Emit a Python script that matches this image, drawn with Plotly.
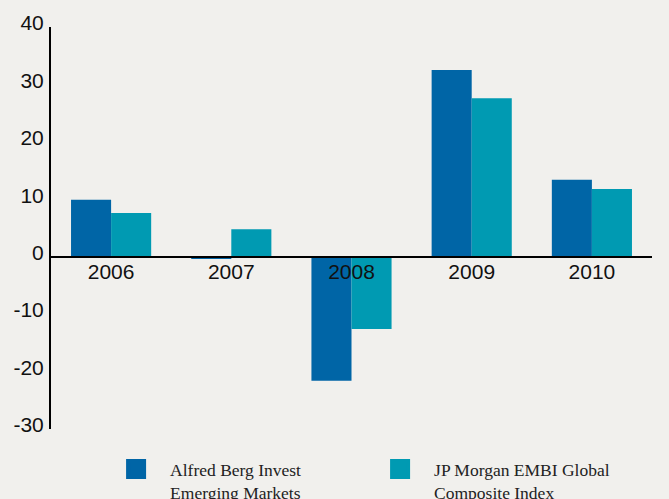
import plotly.graph_objects as go

# Annual returns (%) per calendar year
years = ["2006", "2007", "2008", "2009", "2010"]
fund_returns = [9.9, -0.4, -21.6, 32.5, 13.4]
index_returns = [7.6, 4.8, -12.6, 27.6, 11.8]

fund_name = "Alfred Berg Invest<br>Emerging Markets"
index_name = "JP Morgan EMBI Global<br>Composite Index"

y_ticks = [-30, -20, -10, 0, 10, 20, 30, 40]
y_tick_text = [str(v) for v in y_ticks]  # plain hyphen for negatives

BLUE = "#0065a6"
TEAL = "#009ab2"
BG = "#f1f0ed"

fig = go.Figure()

fig.add_trace(go.Bar(x=years, y=fund_returns, marker=dict(color=BLUE, line=dict(width=0)),
                     showlegend=False))
fig.add_trace(go.Bar(x=years, y=index_returns, marker=dict(color=TEAL, line=dict(width=0)),
                     showlegend=False))

# legend keys drawn as large squares
for name, col in [(fund_name, BLUE), (index_name, TEAL)]:
    fig.add_trace(go.Scatter(x=[None], y=[None], mode="markers", name=name,
                             marker=dict(symbol="square", size=16, color=col,
                                         line=dict(width=4, color=col))))

fig.update_layout(
    width=669, height=499,
    paper_bgcolor=BG, plot_bgcolor=BG,
    margin=dict(l=51, r=17, t=27, b=70, autoexpand=False),
    barmode="group", bargap=1/3, bargroupgap=0,
    font=dict(family="Liberation Sans, Arial, sans-serif", color="#111111"),
    xaxis=dict(type="category", categoryorder="array", categoryarray=years,
               range=[-0.5, 4.5], anchor="free", position=30/70,
               showline=True, linecolor="#000000", linewidth=2,
               showgrid=False, zeroline=False, ticks="", ticklabelstandoff=-4,
               tickfont=dict(size=21, color="#111111")),
    yaxis=dict(range=[-30, 40], tickvals=y_ticks, ticktext=y_tick_text,
               showline=True, linecolor="#000000", linewidth=2, showgrid=False,
               zeroline=False, ticks="", ticklabelstandoff=1, ticklabelshift=-4,
               tickfont=dict(size=21, color="#111111")),
    legend=dict(orientation="h", x=0.085, y=-0.055, xanchor="left", yanchor="top",
                valign="top",
                font=dict(family="Liberation Serif, Times New Roman, serif",
                          size=17.5, color="#222222"),
                itemwidth=58, entrywidth=191, bgcolor="rgba(0,0,0,0)"),
)

fig.write_html("out.html")
